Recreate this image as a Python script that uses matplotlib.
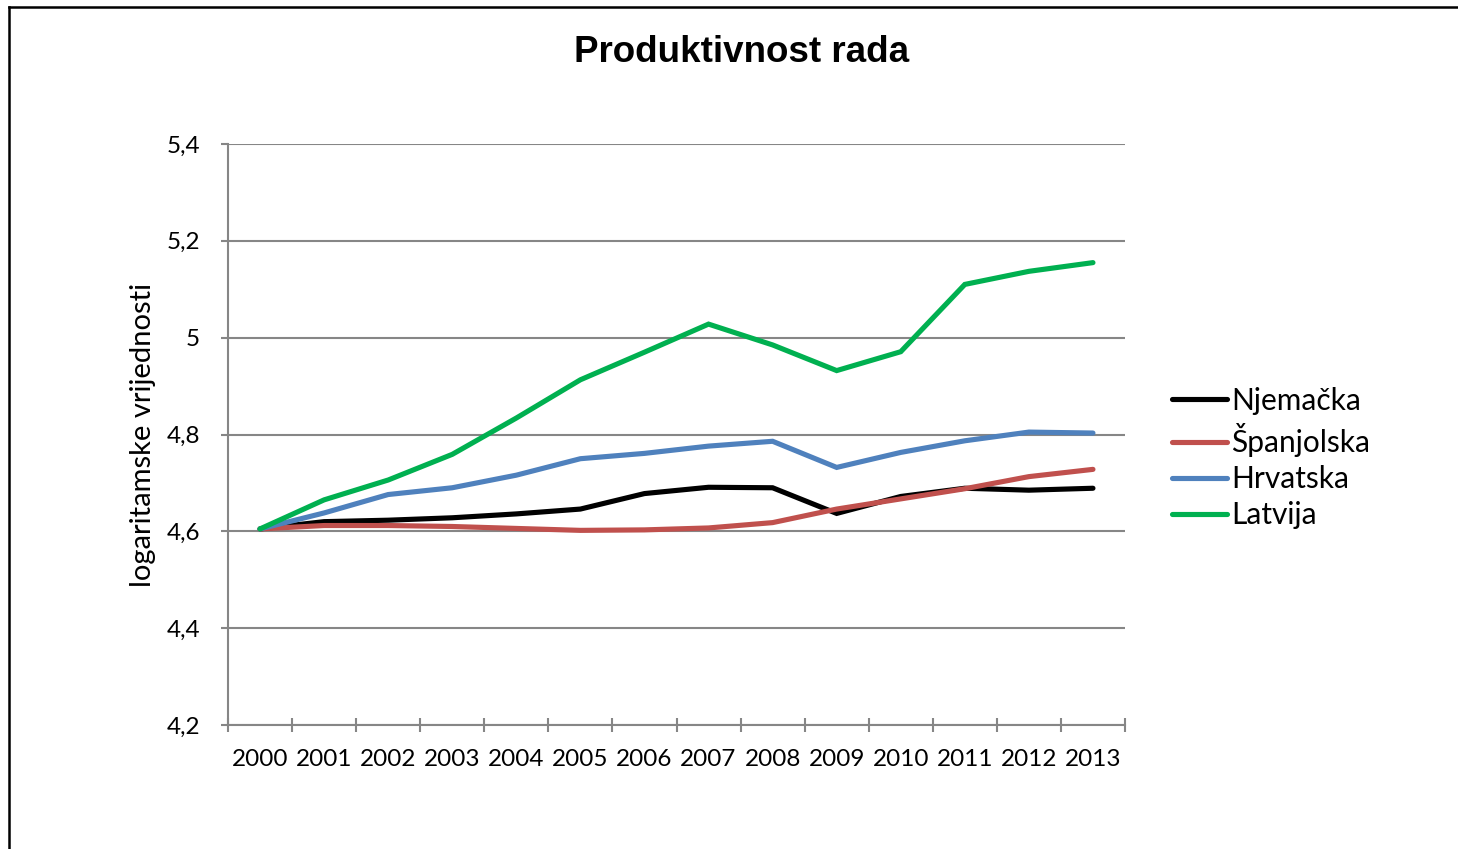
import matplotlib
matplotlib.use("Agg")
import matplotlib.pyplot as plt
from matplotlib.lines import Line2D

# Data (log values)
years = ["2000", "2001", "2002", "2003", "2004", "2005", "2006",
         "2007", "2008", "2009", "2010", "2011", "2012", "2013"]

njemacka = [4.605, 4.620, 4.623, 4.628, 4.636, 4.646, 4.678,
            4.691, 4.690, 4.637, 4.672, 4.689, 4.685, 4.689]
spanjolska = [4.605, 4.612, 4.612, 4.610, 4.606, 4.602, 4.603,
              4.607, 4.618, 4.646, 4.667, 4.688, 4.713, 4.728]
hrvatska = [4.605, 4.638, 4.676, 4.690, 4.716, 4.750, 4.761,
            4.776, 4.786, 4.732, 4.763, 4.787, 4.805, 4.803]
latvija = [4.605, 4.665, 4.706, 4.759, 4.834, 4.913, 4.970,
           5.028, 4.985, 4.932, 4.971, 5.110, 5.137, 5.155]

series = [("Njemačka", njemacka, "#000000"),
          ("Španjolska", spanjolska, "#C0504D"),
          ("Hrvatska", hrvatska, "#4F81BD"),
          ("Latvija", latvija, "#00B050")]

yticks = [4.2, 4.4, 4.6, 4.8, 5.0, 5.2, 5.4]
ytick_labels = ["4,2", "4,4", "4,6", "4,8", "5", "5,2", "5,4"]

W, H = 1458, 849
fig = plt.figure(figsize=(W / 100, H / 100), dpi=100)
ax = fig.add_axes([228 / W, 1 - 725 / H, (1125 - 228) / W, (725 - 144) / H])

grid_c = "#868686"
x = list(range(len(years)))
for name, vals, col in series:
    ax.plot(x, vals, color=col, lw=3.7, label=name, solid_capstyle="round",
            solid_joinstyle="miter", zorder=3)

ax.set_xlim(-0.5, len(years) - 0.5)
ax.set_ylim(4.2, 5.4)
ax.set_yticks(yticks)
ax.set_yticklabels(ytick_labels)
ax.yaxis.grid(True, color=grid_c, lw=1.5)
ax.set_axisbelow(True)

# category boundaries carry the x tick marks
ax.set_xticks([i - 0.5 for i in range(len(years) + 1)])
ax.set_xticklabels([])
ax.set_xticks(x, minor=True)
ax.set_xticklabels(years, minor=True)
ax.tick_params(axis="x", which="major", direction="inout", length=10,
               width=1.5, color=grid_c)
ax.tick_params(axis="x", which="minor", length=0, pad=17, labelsize=17.5)
ax.tick_params(axis="y", direction="out", length=5, width=1.5,
               color=grid_c, labelsize=17.5, pad=15)
for lab in ax.get_xticklabels(minor=True) + ax.get_yticklabels():
    lab.set_family("Lato")

for side in ["top", "right"]:
    ax.spines[side].set_visible(False)
for side in ["left", "bottom"]:
    ax.spines[side].set_color(grid_c)
    ax.spines[side].set_linewidth(1.5)

fig.text(143 / W, 1 - 435 / H, "logaritamske vrijednosti", family="Lato",
         fontsize=21, rotation=90, ha="center", va="center")

fig.text(742 / W, 1 - 52 / H, "Produktivnost rada", ha="center",
         va="center", family="Liberation Sans", weight="bold", fontsize=26.5)

leg = ax.legend(loc="center left", bbox_to_anchor=(1172 / W, 1 - 458 / H),
                bbox_transform=fig.transFigure, frameon=False,
                prop={"family": "Lato", "size": 21.5}, handlelength=1.85,
                handletextpad=0.12, labelspacing=0.27, borderaxespad=0,
                borderpad=0)

# outer chart border (left and top only visible)
fig.add_artist(Line2D([9 / W, 9 / W], [0, 1 - 7 / H], color="black",
                      lw=1.8, transform=fig.transFigure))
fig.add_artist(Line2D([9 / W, 1], [1 - 7 / H, 1 - 7 / H], color="black",
                      lw=1.8, transform=fig.transFigure))

fig.savefig("out.png", dpi=100)
